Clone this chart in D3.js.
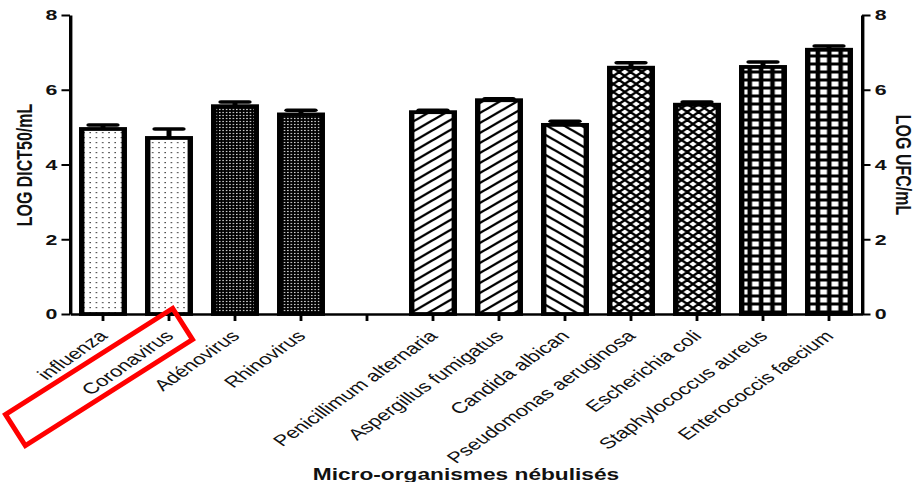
<!doctype html>
<html>
  <head>
    <meta charset="utf-8">
    <script src="https://d3js.org/d3.v7.min.js"></script>
    <style>
      body { margin: 0; background: #fff; }
      text { font-family: "Liberation Sans", Arial, sans-serif; fill: #111; }
    </style>
  </head>
  <body>
    <script>
      // ---------- data ----------
      const categories = ["influenza", "Coronavirus", "Adénovirus", "Rhinovirus", "",
                          "Penicillimum alternaria", "Aspergillus fumigatus", "Candida albican",
                          "Pseudomonas aeruginosa", "Escherichia coli", "Staphylococcus aureus",
                          "Enterococcis faecium"];
      const values = [4.95, 4.71, 5.56, 5.34, null, 5.40, 5.72, 5.06, 6.59, 5.60, 6.61, 7.07];
      const errors = [0.11, 0.24, 0.11, 0.11, null, 0.05, 0.04, 0.10, 0.13, 0.07, 0.13, 0.10];
      const yTicks = [0, 2, 4, 6, 8];

      // fill used for each bar (by category index)
      const fills = ["dots", "dots", "dense", "dense", null, "fwd", "fwd", "back", "cross", "cross", "grid", "grid"];

      // ---------- layout ----------
      // the original picture is stretched sideways, so draw in a narrow frame and stretch it
      const width = 916, height = 482, sx = 1.42;
      const plotLeft = 70 / sx, plotRight = 862 / sx, plotTop = 15, plotBottom = 314;

      const svg = d3.select("body").append("svg")
        .attr("width", width).attr("height", height);

      const defs = svg.append("defs");

      function pat(id, w, h) {
        return defs.append("pattern").attr("id", id)
          .attr("patternUnits", "userSpaceOnUse")
          .attr("width", w).attr("height", h);
      }
      // light dots
      var p = pat("dots", 4.4, 5);
      p.append("rect").attr("width", 4.4).attr("height", 5).attr("fill", "#fff");
      p.append("rect").attr("x", 1.5).attr("y", 2).attr("width", 0.9).attr("height", 1.2).attr("fill", "#222");
      // dark speckle
      p = pat("dense", 2.4, 3);
      p.append("rect").attr("width", 2.4).attr("height", 3).attr("fill", "#000");
      p.append("rect").attr("x", 0.7).attr("y", 0.9).attr("width", 0.9).attr("height", 1.2).attr("fill", "#fff");
      // forward hatch
      var hw = 12.2, hh = 10;
      p = pat("fwd", hw, hh);
      p.append("rect").attr("width", hw).attr("height", hh).attr("fill", "#fff");
      p.append("path")
        .attr("d", `M-1,${hh + 0.82} L${hw + 1},-0.82 M-1,0.82 L1,-0.82 M${hw - 1},${hh + 0.82} L${hw + 1},${hh - 0.82}`)
        .attr("stroke", "#000").attr("stroke-width", 2.1);
      // back hatch
      p = pat("back", hw, hh);
      p.append("rect").attr("width", hw).attr("height", hh).attr("fill", "#fff");
      p.append("path")
        .attr("d", `M-1,-0.82 L${hw + 1},${hh + 0.82} M-1,${hh - 0.82} L1,${hh + 0.82} M${hw - 1},-0.82 L${hw + 1},0.82`)
        .attr("stroke", "#000").attr("stroke-width", 2.1);
      // cross hatch
      p = pat("cross", 8, 8);
      p.append("rect").attr("width", 8).attr("height", 8).attr("fill", "#fff");
      p.append("path").attr("d", "M0,4 L4,0 L8,4 L4,8 Z")
        .attr("fill", "none").attr("stroke", "#000").attr("stroke-width", 2);
      // grid
      p = pat("grid", 8, 8);
      p.append("rect").attr("width", 8).attr("height", 8).attr("fill", "#000");
      p.append("rect").attr("x", 1.6).attr("y", 1.5).attr("width", 4.8).attr("height", 5).attr("fill", "#fff");

      const root = svg.append("g").attr("transform", `scale(${sx},1)`);

      const x = d3.scaleBand().domain(categories).range([plotLeft, plotRight])
        .paddingInner(0.355).paddingOuter(0.1775);
      const y = d3.scaleLinear().domain([0, 8]).range([plotBottom, plotTop]);

      const rows = categories.map((c, i) => ({ c: c, v: values[i], e: errors[i], f: fills[i] }))
        .filter(d => d.v != null);

      // ---------- bars ----------
      const bars = root.append("g").selectAll("g").data(rows).enter().append("g");

      bars.append("line")
        .attr("x1", d => x(d.c) + x.bandwidth() / 2).attr("x2", d => x(d.c) + x.bandwidth() / 2)
        .attr("y1", d => y(d.v)).attr("y2", d => y(d.v + d.e))
        .attr("stroke", "#000").attr("stroke-width", 3.5);
      bars.append("line")
        .attr("x1", d => x(d.c) + x.bandwidth() / 2 - 10).attr("x2", d => x(d.c) + x.bandwidth() / 2 + 10)
        .attr("y1", d => y(d.v + d.e)).attr("y2", d => y(d.v + d.e))
        .attr("stroke", "#000").attr("stroke-width", 3.5).attr("stroke-linecap", "round");

      bars.append("rect")
        .attr("x", d => x(d.c)).attr("width", x.bandwidth())
        .attr("y", d => y(d.v)).attr("height", d => y(0) - y(d.v))
        .attr("fill", d => `url(#${d.f})`)
        .attr("stroke", "#000").attr("stroke-width", 3.8);

      // ---------- axes ----------
      function styleAxis(g) {
        g.select(".domain").attr("stroke", "#000").attr("stroke-width", 2.4);
        g.selectAll(".tick line").attr("stroke", "#000").attr("stroke-width", 2);
        g.selectAll(".tick text").attr("font-size", 15).attr("font-weight", "bold")
          .attr("font-family", "'Liberation Sans', Arial, sans-serif").attr("fill", "#111");
      }

      root.append("g").attr("transform", `translate(${plotLeft},0)`)
        .call(d3.axisLeft(y).tickValues(yTicks).tickSize(6).tickSizeOuter(0).tickPadding(3))
        .call(styleAxis);

      root.append("g").attr("transform", `translate(${plotRight},0)`)
        .call(d3.axisRight(y).tickValues(yTicks).tickSize(6).tickSizeOuter(0).tickPadding(3))
        .call(styleAxis);

      root.append("g").attr("transform", `translate(0,${plotBottom})`)
        .call(d3.axisBottom(x).tickSize(7).tickSizeOuter(0).tickFormat(""))
        .call(styleAxis);

      // rotated category labels
      root.append("g").selectAll("text").data(categories.filter(c => c !== "")).enter()
        .append("text")
        .attr("transform", d => `translate(${x(d) + x.bandwidth() / 2 + 4},337) rotate(-45)`)
        .attr("text-anchor", "end")
        .attr("font-size", 15.5)
        .text(d => d);

      // axis titles
      root.append("text")
        .attr("transform", `translate(22.5,165) rotate(-90)`)
        .attr("text-anchor", "middle").attr("font-size", 16).attr("font-weight", "bold")
        .text("LOG DICT50/mL");

      root.append("text")
        .attr("transform", `translate(631,165) rotate(90)`)
        .attr("text-anchor", "middle").attr("font-size", 16).attr("font-weight", "bold")
        .text("LOG UFC/mL");

      root.append("text")
        .attr("x", (plotLeft + plotRight) / 2).attr("y", 480)
        .attr("text-anchor", "middle").attr("font-size", 16).attr("font-weight", "bold")
        .text("Micro-organismes nébulisés");

      // ---------- red highlight round the Coronavirus label ----------
      const hx = (x("Coronavirus") + x.bandwidth() / 2) * sx - 70;
      svg.append("rect")
        .attr("transform", `translate(${hx},377) rotate(-32.4)`)
        .attr("x", -99).attr("y", -18.5).attr("width", 198).attr("height", 37)
        .attr("fill", "none").attr("stroke", "#f00").attr("stroke-width", 5);
    </script>
  </body>
</html>
